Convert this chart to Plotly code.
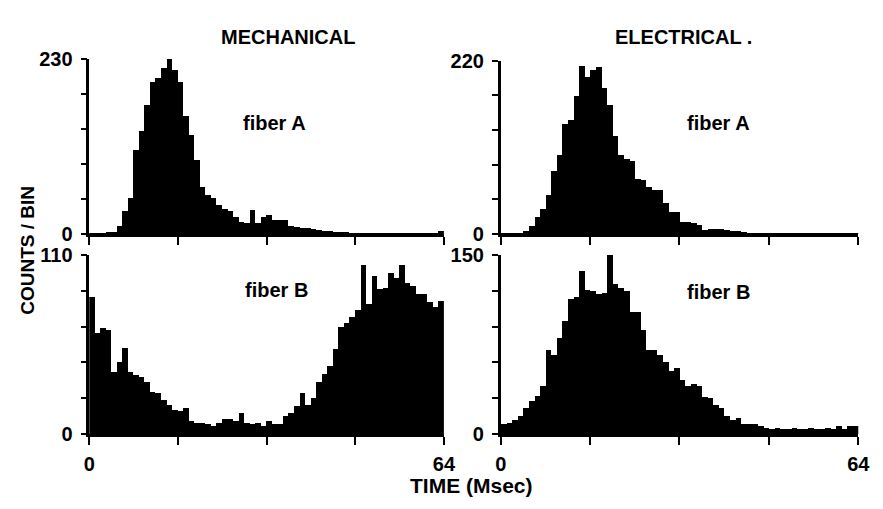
import plotly.graph_objects as go

# ---------------- data (counts per 1-ms bin, 0..64 ms) ----------------
time_bins = [i + 0.5 for i in range(64)]
time_tickvals = [0, 16, 32, 48, 64]
time_ticktext_bottom = ["0", "", "", "", "64"]
time_ticktext_top = ["", "", "", "", ""]

mech_fiber_a = [2, 2, 2, 3, 3, 10, 30, 48, 110, 135, 170, 200, 205, 218, 230, 215,
                200, 155, 130, 97, 62, 52, 48, 38, 33, 30, 22, 16, 14, 32, 14, 22,
                25, 19, 19, 18, 10, 9, 8, 8, 7, 6, 4, 4, 3, 3, 3, 2,
                2, 2, 2, 2, 2, 2, 2, 2, 2, 2, 2, 2, 2, 2, 2, 4]
elec_fiber_a = [2, 2, 2, 2, 4, 10, 22, 32, 50, 80, 101, 140, 145, 176, 214, 200,
                208, 212, 186, 164, 125, 101, 95, 93, 70, 69, 60, 56, 56, 40, 28, 28,
                16, 16, 14, 12, 5, 6, 7, 7, 5, 4, 4, 3, 2, 2, 2, 2,
                2, 2, 2, 2, 2, 2, 2, 2, 2, 2, 2, 2, 2, 2, 2, 2]
mech_fiber_b = [84, 62, 65, 64, 38, 44, 53, 38, 36, 35, 32, 26, 25, 21, 18, 15,
                14, 16, 8, 7, 7, 6, 5, 7, 9, 9, 8, 13, 7, 6, 7, 5,
                8, 6, 6, 11, 13, 17, 25, 18, 22, 32, 37, 42, 52, 66, 68, 72,
                76, 104, 80, 97, 89, 90, 99, 96, 104, 93, 91, 86, 86, 81, 78, 82]
elec_fiber_b = [8, 9, 12, 15, 22, 28, 32, 40, 70, 66, 80, 95, 113, 115, 137, 121,
                120, 117, 118, 150, 126, 122, 120, 102, 102, 87, 70, 70, 66, 60, 53, 55,
                45, 40, 42, 40, 31, 30, 24, 22, 15, 12, 13, 8, 8, 8, 7, 5,
                4, 5, 4, 4, 5, 4, 4, 5, 4, 4, 5, 4, 7, 4, 7, 7]

y_max = [230, 220, 110, 150]
y_ticktext_top = ["230", "220", "110", "150"]
column_titles = ["MECHANICAL", "ELECTRICAL ."]
fiber_labels = ["fiber A", "fiber A", "fiber B", "fiber B"]
y_title = "COUNTS / BIN"
x_title = "TIME (Msec)"

# ---------------- layout geometry (pixels) ----------------
W, H = 883, 509
FONT = "Liberation Sans"


def px_x(p):
    return p / W


def px_y(p):
    return 1 - p / H


panels = [
    dict(counts=mech_fiber_a, ymax=y_max[0], top=y_ticktext_top[0], label=fiber_labels[0],
         xd=(85, 447), yd=(50, 233), bottom=False, lab=(274, 117)),
    dict(counts=elec_fiber_a, ymax=y_max[1], top=y_ticktext_top[1], label=fiber_labels[1],
         xd=(505, 870), yd=(52, 233), bottom=False, lab=(727, 117)),
    dict(counts=mech_fiber_b, ymax=y_max[2], top=y_ticktext_top[2], label=fiber_labels[2],
         xd=(85, 447), yd=(255, 442), bottom=True, lab=(276, 292)),
    dict(counts=elec_fiber_b, ymax=y_max[3], top=y_ticktext_top[3], label=fiber_labels[3],
         xd=(505, 870), yd=(255, 442), bottom=True, lab=(727, 294)),
]

fig = go.Figure()
layout = dict(
    width=W, height=H,
    margin=dict(l=0, r=0, t=0, b=0),
    paper_bgcolor="white", plot_bgcolor="white",
    showlegend=False, bargap=0,
    font=dict(family=FONT, color="black", size=18, weight="bold"),
    annotations=[],
)

for i, p in enumerate(panels, start=1):
    xa = "x" if i == 1 else f"x{i}"
    ya = "y" if i == 1 else f"y{i}"
    fig.add_trace(go.Bar(
        x=time_bins, y=p["counts"], width=1,
        marker=dict(color="black", line=dict(width=0)),
        xaxis=xa, yaxis=ya, hoverinfo="skip",
    ))
    step = p["ymax"] / 5
    layout["xaxis" if i == 1 else f"xaxis{i}"] = dict(
        domain=[px_x(p["xd"][0]), px_x(p["xd"][1])],
        anchor=ya, range=[0, 64],
        showline=True, linecolor="black", linewidth=3,
        ticks="outside", ticklen=8, tickwidth=2, tickcolor="black",
        tickvals=time_tickvals,
        ticktext=time_ticktext_bottom if p["bottom"] else time_ticktext_top,
        showgrid=False, zeroline=False, ticklabelstandoff=2,
        tickfont=dict(family=FONT, size=20, color="black", weight="bold"),
    )
    layout["yaxis" if i == 1 else f"yaxis{i}"] = dict(
        domain=[px_y(p["yd"][1]), px_y(p["yd"][0])],
        anchor=xa, range=[0, p["ymax"]],
        showline=True, linecolor="black", linewidth=2.5,
        ticks="outside", ticklen=6, tickwidth=2, tickcolor="black",
        tickvals=[round(step * k, 6) for k in range(6)],
        ticktext=["0", "", "", "", "", p["top"]],
        showgrid=False, zeroline=False, ticklabelstandoff=4,
        tickfont=dict(family=FONT, size=20, color="black", weight="bold"),
    )
    layout["annotations"].append(dict(
        text=p["label"], x=px_x(p["lab"][0]), y=px_y(p["lab"][1]),
        xref="paper", yref="paper", showarrow=False,
        xanchor="center", yanchor="middle",
        font=dict(family=FONT, size=20, color="black", weight="bold"),
    ))

for title, cx in zip(column_titles, (288, 692)):
    layout["annotations"].append(dict(
        text=title, x=px_x(cx), y=px_y(27), xref="paper", yref="paper",
        showarrow=False, xanchor="center", yanchor="middle",
        font=dict(family=FONT, size=20, color="black", weight="bold"),
    ))

layout["annotations"].append(dict(
    text=y_title, x=px_x(22), y=px_y(250), xref="paper", yref="paper",
    showarrow=False, textangle=-90, xanchor="center", yanchor="middle",
    font=dict(family=FONT, size=19, color="black", weight="bold"),
))
layout["annotations"].append(dict(
    text=x_title, x=px_x(475), y=px_y(496), xref="paper", yref="paper",
    showarrow=False, xanchor="center", yanchor="middle",
    font=dict(family=FONT, size=21, color="black", weight="bold"),
))

fig.update_layout(**layout)
fig.write_html("out.html")
